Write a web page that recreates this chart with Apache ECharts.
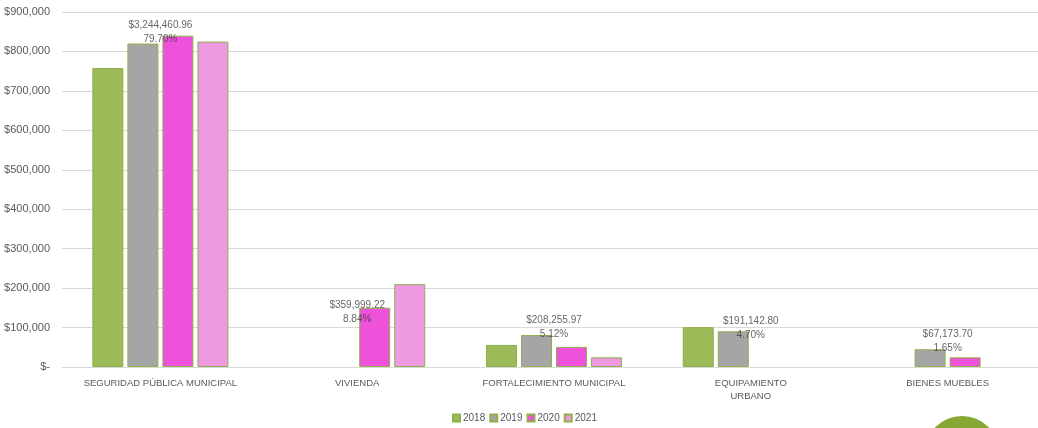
<!DOCTYPE html>
<html>
<head>
    <meta charset="utf-8" />
    <title>Inversión por rubro</title>
    <script src="https://cdn.jsdelivr.net/npm/echarts@6/dist/echarts.min.js"></script>
    <style>
        html, body { margin: 0; padding: 0; background: #fff; overflow: hidden; }
        /* el area de la grafica sale un poco por la derecha, como en el original */
        #chart { width: 1046px; height: 428px; }
    </style>
</head>
<body>
    <div id="chart"></div>
    <script>
        // datos
        var categories = ['SEGURIDAD PÚBLICA MUNICIPAL', 'VIVIENDA', 'FORTALECIMIENTO MUNICIPAL', 'EQUIPAMIENTO\nURBANO', 'BIENES MUEBLES'];
        var years = ['2018', '2019', '2020', '2021'];
        var v2018 = [758000, null, 56000, 101000, null];
        var v2019 = [820000, null, 81000, 90500, 45000];
        var v2020 = [840000, 150000, 51000, null, 24500];
        var v2021 = [825000, 210000, 24500, null, null];
        var totals = ['$3,244,460.96', '$359,999.22', '$208,255.97', '$191,142.80', '$67,173.70'];
        var shares = ['79.70%', '8.84%', '5.12%', '4.70%', '1.65%'];
        // altura (en pesos) donde Excel dejo cada etiqueta
        var labelAnchor = [849000, 140000, 101000, 97000, 66000];
        var yTicks = { min: 0, max: 900000, interval: 100000 };

        var colors = ['#9BBB59', '#A5A5A5', '#EE52DA', '#EE9AE2'];
        var values = [v2018, v2019, v2020, v2021];

        var chart = echarts.init(document.getElementById('chart'));

        function money(v) {
            if (v === 0) return '$-';
            return '$' + v.toString().replace(/\B(?=(\d{3})+(?!\d))/g, ',');
        }

        var series = years.map(function (y, i) {
            return {
                name: y,
                type: 'bar',
                data: values[i],
                barWidth: 31,
                barGap: '13%',
                itemStyle: { color: colors[i], borderColor: '#8FB04A', borderWidth: 1 }
            };
        });
        // etiquetas de total y porcentaje
        series.push({
            type: 'scatter',
            symbolSize: 0,
            silent: true,
            data: labelAnchor.map(function (a, i) { return [i, a, totals[i], shares[i]]; }),
            label: {
                show: true,
                position: 'inside',
                formatter: function (p) { return p.data[2] + '\n' + p.data[3]; },
                color: '#404040',
                fontFamily: 'Liberation Sans',
                fontSize: 10,
                lineHeight: 14
            }
        });

        chart.setOption({
            animation: false,
            grid: { left: 62, right: 0, top: 12, bottom: 61 },
            legend: {
                data: years,
                bottom: 0,
                left: 447,
                itemWidth: 7,
                itemHeight: 7,
                itemGap: 4,
                icon: 'rect',
                textStyle: { fontFamily: 'Liberation Sans', fontSize: 10, color: '#595959', padding: [0, 0, 0, -2] }
            },
            xAxis: {
                type: 'category',
                data: categories,
                axisLine: { lineStyle: { color: '#D9D9D9' } },
                axisTick: { show: false },
                axisLabel: { color: '#595959', fontFamily: 'Liberation Sans', fontSize: 9.5, margin: 10, lineHeight: 13, interval: 0 }
            },
            yAxis: {
                type: 'value',
                min: yTicks.min,
                max: yTicks.max,
                interval: yTicks.interval,
                axisLine: { show: false },
                axisTick: { show: false },
                splitLine: { lineStyle: { color: '#D9D9D9' } },
                axisLabel: { color: '#595959', fontFamily: 'Liberation Sans', fontSize: 11, margin: 12, formatter: money }
            },
            series: series,
            graphic: [{
                type: 'circle',
                shape: { cx: 962, cy: 453, r: 37 },
                style: { fill: '#86A832' },
                silent: true
            }]
        });
    </script>
</body>
</html>
